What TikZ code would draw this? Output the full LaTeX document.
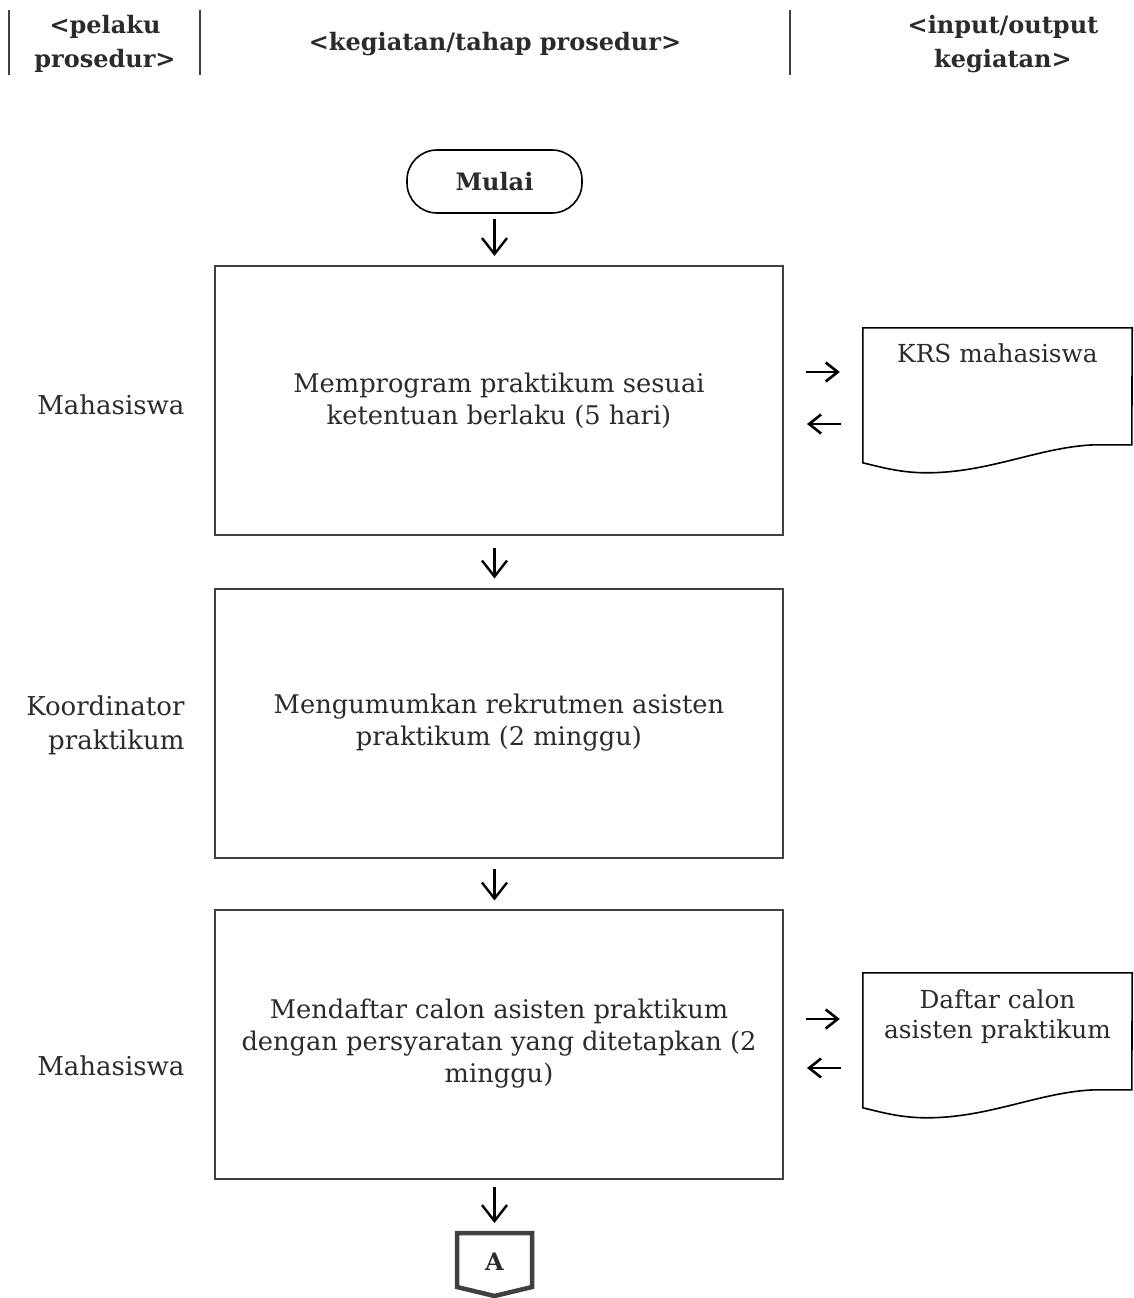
\documentclass[tikz,border=0pt]{standalone}
\usepackage{fontspec}
\setmainfont{DejaVu Serif}
\usetikzlibrary{arrows.meta,calc}
\definecolor{txt}{HTML}{2B2B2B}
\definecolor{edge}{HTML}{404040}
\newcommand{\docoutline}[1]{%
  \draw[docline] (#1.north west) -- (#1.north east)
    -- ($(#1.north west)+(269,117)$) -- ($(#1.north west)+(232,117)$)
    .. controls ($(#1.north west)+(177,119)$) and ($(#1.north west)+(127,145)$) .. ($(#1.north west)+(64,145)$)
    .. controls ($(#1.north west)+(37,145)$) and ($(#1.north west)+(17,139)$) .. ($(#1.north west)+(0,135)$)
    -- cycle;}
\begin{document}
\begin{tikzpicture}[x=1pt,y=-1pt,
  every node/.style={text=txt, font=\fontsize{25.7}{32}\selectfont},
  stepbox/.style={draw=edge, line width=2pt, minimum width=568pt, minimum height=269pt, inner sep=0pt, align=center},
  docnode/.style={draw=none, minimum width=269pt, minimum height=135pt, inner sep=0pt},
  docline/.style={draw=black, line width=1.6pt},
  doctext/.style={align=center, font=\fontsize{24.8}{30}\selectfont},
  actor/.style={anchor=east, align=right, font=\fontsize{26}{34}\selectfont},
  head/.style={font=\bfseries\fontsize{24}{34}\selectfont, align=center},
  sepline/.style={draw=edge, line width=1.2pt},
  startbox/.style={draw=black, line width=1.6pt, rounded corners=30pt, minimum width=175pt, minimum height=63pt, font=\bfseries\fontsize{24}{30}\selectfont},
  varr/.style={draw=black, line width=2.4pt, -{Straight Barb[length=16pt,width=25pt,line width=2.4pt]}},
  harr/.style={draw=black, line width=2.6pt, -{Straight Barb[length=12pt,width=19pt,line width=2.6pt]}, shorten <=22pt, shorten >=23pt},
  offpage/.style={draw=edge, line width=4.5pt, line join=miter}
]
\useasboundingbox (0,0) rectangle (1133,1298);
% header
\coordinate (s1t) at (9,10); \coordinate (s1b) at (9,75);
\coordinate (s2t) at (200,10); \coordinate (s2b) at (200,75);
\coordinate (s3t) at (790,10); \coordinate (s3b) at (790,75);
\draw[sepline] (s1t) -- (s1b);
\draw[sepline] (s2t) -- (s2b);
\draw[sepline] (s3t) -- (s3b);
\node[head] (h1) at (105,44) {<pelaku\\prosedur>};
\node[head] (h2) at (495,44) {<kegiatan/tahap prosedur>};
\node[head] (h3) at (1003,44) {<input/output\\kegiatan>};
% start
\node[startbox] (mulai) at (494.5,181.5) {Mulai};
% steps
\node[stepbox] (b1) at (499,400.5) {Memprogram praktikum sesuai\\ketentuan berlaku (5 hari)};
\node[stepbox] (b2) at (499,723) {Mengumumkan rekrutmen asisten\\praktikum (2 minggu)};
\node[stepbox] (b3) at (499,1044) {Mendaftar calon asisten praktikum\\dengan persyaratan yang ditetapkan (2\\minggu)};
% actors
\node[actor] (p1) at (188,405) {Mahasiswa};
\node[actor] (p2) at (188,725) {Koordinator\\praktikum};
\node[actor] (p3) at (188,1066) {Mahasiswa};
% documents
\node[docnode] (d1) at (997.5,395.5) {};
\docoutline{d1}
\node[doctext] (d1t) at (997.5,353) {KRS mahasiswa};
\node[docnode] (d2) at (997.5,1040.5) {};
\docoutline{d2}
\node[doctext] (d2t) at (997.5,1017) {Daftar calon\\asisten praktikum};
% off-page connector
\coordinate (A1) at (457,1233); \coordinate (A2) at (532,1233);
\coordinate (A3) at (532,1287); \coordinate (A4) at (494.5,1296); \coordinate (A5) at (457,1287);
\draw[offpage] (A1) -- (A2) -- (A3) -- (A4) -- (A5) -- cycle;
\node[font=\bfseries\fontsize{24}{28}\selectfont] (A) at (494.5,1262) {A};
% vertical arrows
\draw[varr, shorten <=5pt, shorten >=9pt] (mulai.south) -- (mulai.south |- b1.north);
\draw[varr, shorten <=12pt, shorten >=9pt] (b1.south -| mulai.south) -- (b2.north -| mulai.south);
\draw[varr, shorten <=10pt, shorten >=8pt] (b2.south -| mulai.south) -- (b3.north -| mulai.south);
\draw[varr, shorten <=7pt, shorten >=10pt] (b3.south -| mulai.south) -- (A1 -| mulai.south);
% horizontal arrows
\coordinate (i1) at ($(b1.east)+(0,-28.5)$);
\coordinate (o1) at ($(b1.east)+(0,23.5)$);
\draw[harr] (i1) -- (i1 -| d1.west);
\draw[harr] (o1 -| d1.west) -- (o1);
\coordinate (i3) at ($(b3.east)+(0,-25)$);
\coordinate (o3) at ($(b3.east)+(0,24)$);
\draw[harr] (i3) -- (i3 -| d2.west);
\draw[harr] (o3 -| d2.west) -- (o3);
\end{tikzpicture}
\end{document}
